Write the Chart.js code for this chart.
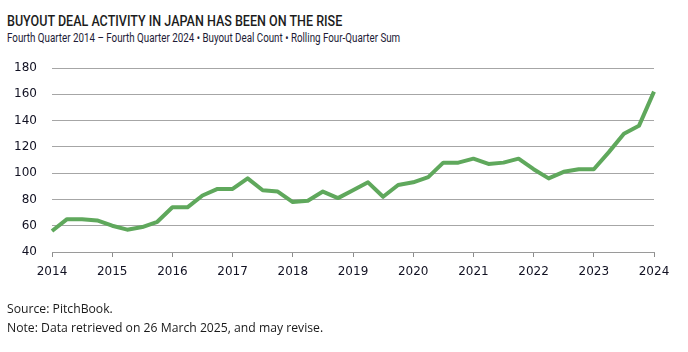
<!DOCTYPE html>
<html>
<head>
<meta charset="utf-8">
<script src="https://cdn.jsdelivr.net/npm/chart.js@4.4.1/dist/chart.umd.min.js"></script>
<style>
  body { margin: 0; width: 688px; height: 352px; background: #fff; position: relative; overflow: hidden; }
  #c { position: absolute; left: 0; top: 0; }
  .txt { position: absolute; left: 7px; white-space: nowrap; line-height: 1; transform-origin: 0 0; }
  #title { top: 13px; font: 500 14px "Roboto"; color: #1c1c1c; }
  #sub { top: 31px; font: 400 12px "Roboto"; color: #1d1b36; }
  #src { top: 299px; font: 400 13px "Open Sans"; color: #1a1a1a; }
  #note { top: 318px; font: 400 13px "Open Sans"; color: #1a1a1a; }
</style>
</head>
<body>
<div class="txt" id="title" data-w="335">BUYOUT DEAL ACTIVITY IN JAPAN HAS BEEN ON THE RISE</div>
<div class="txt" id="sub" data-w="393">Fourth Quarter 2014 – Fourth Quarter 2024 • Buyout Deal Count • Rolling Four-Quarter Sum</div>
<canvas id="c" width="688" height="352"></canvas>
<div class="txt" id="src" data-w="106">Source: PitchBook.</div>
<div class="txt" id="note" data-w="316">Note: Data retrieved on 26 March 2025, and may revise.</div>
<script>
// quarters Q4 2014 .. Q4 2024
var quarters = [
  "Q4 2014",
  "Q1 2015", "Q2 2015", "Q3 2015", "Q4 2015",
  "Q1 2016", "Q2 2016", "Q3 2016", "Q4 2016",
  "Q1 2017", "Q2 2017", "Q3 2017", "Q4 2017",
  "Q1 2018", "Q2 2018", "Q3 2018", "Q4 2018",
  "Q1 2019", "Q2 2019", "Q3 2019", "Q4 2019",
  "Q1 2020", "Q2 2020", "Q3 2020", "Q4 2020",
  "Q1 2021", "Q2 2021", "Q3 2021", "Q4 2021",
  "Q1 2022", "Q2 2022", "Q3 2022", "Q4 2022",
  "Q1 2023", "Q2 2023", "Q3 2023", "Q4 2023",
  "Q1 2024", "Q2 2024", "Q3 2024", "Q4 2024"
];
var dealCount = [56, 65, 65, 64, 60, 57, 59, 63, 74, 74, 83, 88, 88, 96, 87, 86, 78, 79, 86, 81,
                 87, 93, 82, 91, 93, 97, 108, 108, 111, 107, 108, 111, 103, 96, 101, 103, 103, 116, 130, 136, 162];
var yTicks = [40, 60, 80, 100, 120, 140, 160, 180];

var tickFont = { family: "DejaVu Sans", size: 12 };

var chart = new Chart("c", {
  type: "line",
  data: {
    labels: quarters,
    datasets: [{
      data: dealCount,
      borderColor: "#5fa85c",
      borderWidth: 4,
      tension: 0,
      pointRadius: 0,
      fill: false,
      borderJoinStyle: "round"
    }]
  },
  options: {
    responsive: false,
    animation: false,
    layout: { padding: { top: 68, right: 34, left: 0, bottom: 60 } },
    plugins: { legend: { display: false }, tooltip: { enabled: false } },
    scales: {
      x: {
        type: "category",
        offset: false,
        afterFit: function(s) { s.height = 40; },
        grid: { drawOnChartArea: false, drawTicks: true, tickLength: 5, color: "#8c8c8c" },
        border: { display: true, color: "#9a9a9a" },
        ticks: {
          autoSkip: false, maxRotation: 0, padding: 8,
          color: "#111122", font: tickFont,
          callback: function(v, i) {
            var q = quarters[i];
            return q.indexOf("Q4") === 0 ? q.slice(3) : null;
          }
        }
      },
      y: {
        min: yTicks[0],
        max: yTicks[yTicks.length - 1],
        afterFit: function(s) { s.width = 52; },
        afterBuildTicks: function(s) { s.ticks = yTicks.map(function(v) { return { value: v }; }); },
        grid: { drawTicks: false, color: "#a6a6a6", lineWidth: 1 },
        border: { display: false },
        ticks: { padding: 15, color: "#111122", font: tickFont }
      }
    }
  }
});

// squeeze the text blocks to the widths of the original
document.querySelectorAll(".txt").forEach(function(el) {
  var w = parseFloat(el.dataset.w);
  el.style.transform = "scaleX(" + (w / el.offsetWidth) + ")";
});
</script>
</body>
</html>
